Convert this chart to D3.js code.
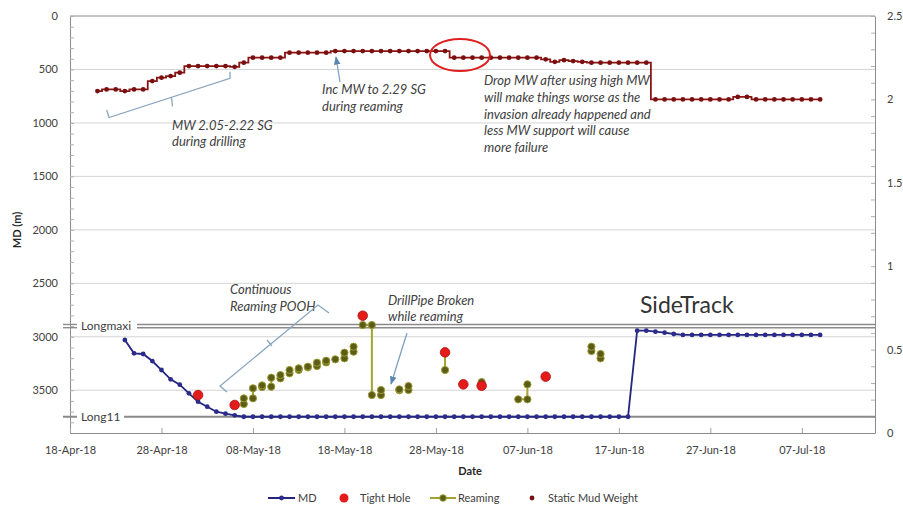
<!DOCTYPE html>
<html><head><meta charset="utf-8">
<script src="https://cdn.jsdelivr.net/npm/d3@7"></script>
<style>
body{margin:0;background:#fff}
svg{display:block}
text{font-family:Lato,"Open Sans",sans-serif}
</style>
</head><body>
<svg id="c" width="903" height="506"></svg>
<script>
// ---------- DATA ----------
const xTickLabels = ["2018-04-18","2018-04-28","2018-05-08","2018-05-18","2018-05-28","2018-06-07","2018-06-17","2018-06-27","2018-07-07"];
const leftTicks = [0,500,1000,1500,2000,2500,3000,3500];
const rightTicks = [0,0.5,1,1.5,2,2.5];

const mdSeries = [
 ["2018-04-24",3030],["2018-04-25",3155],["2018-04-26",3161],["2018-04-27",3227],["2018-04-28",3311],
 ["2018-04-29",3398],["2018-04-30",3448],["2018-05-01",3529],["2018-05-02",3607],["2018-05-03",3654],
 ["2018-05-04",3701],["2018-05-05",3719],["2018-05-06",3735],["2018-05-07",3748],["2018-05-08",3748],
 ["2018-05-09",3748],["2018-05-10",3748],["2018-05-11",3748],["2018-05-12",3748],["2018-05-13",3748],
 ["2018-05-14",3748],["2018-05-15",3748],["2018-05-16",3748],["2018-05-17",3748],["2018-05-18",3748],
 ["2018-05-19",3748],["2018-05-20",3748],["2018-05-21",3748],["2018-05-22",3748],["2018-05-23",3748],
 ["2018-05-24",3748],["2018-05-25",3748],["2018-05-26",3748],["2018-05-27",3748],["2018-05-28",3748],
 ["2018-05-29",3748],["2018-05-30",3748],["2018-05-31",3748],["2018-06-01",3748],["2018-06-02",3748],
 ["2018-06-03",3748],["2018-06-04",3748],["2018-06-05",3748],["2018-06-06",3748],["2018-06-07",3748],
 ["2018-06-08",3748],["2018-06-09",3748],["2018-06-10",3748],["2018-06-11",3748],["2018-06-12",3748],
 ["2018-06-13",3748],["2018-06-14",3748],["2018-06-15",3748],["2018-06-16",3748],["2018-06-17",3748],
 ["2018-06-18",3748],["2018-06-19",2943],["2018-06-20",2943],["2018-06-21",2952],["2018-06-22",2962],
 ["2018-06-23",2974],["2018-06-24",2983],["2018-06-25",2983],["2018-06-26",2983],["2018-06-27",2983],
 ["2018-06-28",2983],["2018-06-29",2983],["2018-06-30",2983],["2018-07-01",2983],["2018-07-02",2983],
 ["2018-07-03",2983],["2018-07-04",2983],["2018-07-05",2983],["2018-07-06",2983],["2018-07-07",2983],
 ["2018-07-08",2983],["2018-07-09",2983]
];

const tightHole = [
 ["2018-05-02",3545],["2018-05-06",3638],["2018-05-20",2803],["2018-05-29",3146],
 ["2018-05-31",3445],["2018-06-02",3458],["2018-06-09",3373]
];

// each inner list is one connected reaming run
const reaming = [
 [["2018-05-07",3629],["2018-05-07",3576]],
 [["2018-05-08",3576],["2018-05-08",3482]],
 [["2018-05-09",3470],["2018-05-09",3455]],
 [["2018-05-10",3467],["2018-05-10",3383]],
 [["2018-05-11",3389],["2018-05-11",3358]],
 [["2018-05-12",3342],["2018-05-12",3311]],
 [["2018-05-13",3310],["2018-05-13",3295]],
 [["2018-05-14",3286],["2018-05-14",3280]],
 [["2018-05-15",3273],["2018-05-15",3242]],
 [["2018-05-16",3240],["2018-05-16",3224]],
 [["2018-05-17",3211]],
 [["2018-05-18",3202],["2018-05-18",3149]],
 [["2018-05-19",3140],["2018-05-19",3093]],
 [["2018-05-20",2890],["2018-05-21",2890],["2018-05-21",3545]],
 [["2018-05-22",3545],["2018-05-22",3498]],
 [["2018-05-24",3500],["2018-05-24",3492]],
 [["2018-05-25",3498],["2018-05-25",3461]],
 [["2018-05-29",3146],["2018-05-29",3311]],
 [["2018-06-02",3448],["2018-06-02",3423]],
 [["2018-06-06",3585],["2018-06-07",3585],["2018-06-07",3445]],
 [["2018-06-14",3133],["2018-06-14",3093]],
 [["2018-06-15",3202],["2018-06-15",3161]]
];

const staticMudWeight = [
 ["2018-04-21",2.05],["2018-04-22",2.06],["2018-04-23",2.06],["2018-04-24",2.05],["2018-04-25",2.06],
 ["2018-04-26",2.06],["2018-04-27",2.11],["2018-04-28",2.13],["2018-04-29",2.14],["2018-04-30",2.16],
 ["2018-05-01",2.20],["2018-05-02",2.20],["2018-05-03",2.20],["2018-05-04",2.20],["2018-05-05",2.20],
 ["2018-05-06",2.195],["2018-05-07",2.22],["2018-05-08",2.25],["2018-05-09",2.25],["2018-05-10",2.25],
 ["2018-05-11",2.25],["2018-05-12",2.28],["2018-05-13",2.28],["2018-05-14",2.28],["2018-05-15",2.28],
 ["2018-05-16",2.28],["2018-05-17",2.29],["2018-05-18",2.29],["2018-05-19",2.29],["2018-05-20",2.29],
 ["2018-05-21",2.29],["2018-05-22",2.29],["2018-05-23",2.29],["2018-05-24",2.29],["2018-05-25",2.29],
 ["2018-05-26",2.29],["2018-05-27",2.29],["2018-05-28",2.29],["2018-05-29",2.29],["2018-05-30",2.25],
 ["2018-05-31",2.25],["2018-06-01",2.25],["2018-06-02",2.25],["2018-06-03",2.25],["2018-06-04",2.25],
 ["2018-06-05",2.25],["2018-06-06",2.25],["2018-06-07",2.25],["2018-06-08",2.25],["2018-06-09",2.24],
 ["2018-06-10",2.225],["2018-06-11",2.235],["2018-06-12",2.23],["2018-06-13",2.225],["2018-06-14",2.22],
 ["2018-06-15",2.22],["2018-06-16",2.22],["2018-06-17",2.22],["2018-06-18",2.22],["2018-06-19",2.22],
 ["2018-06-20",2.22],["2018-06-21",2.00],["2018-06-22",2.00],["2018-06-23",2.00],["2018-06-24",2.00],
 ["2018-06-25",2.00],["2018-06-26",2.00],["2018-06-27",2.00],["2018-06-28",2.00],["2018-06-29",2.00],
 ["2018-06-30",2.015],["2018-07-01",2.015],["2018-07-02",2.00],["2018-07-03",2.00],["2018-07-04",2.00],
 ["2018-07-05",2.00],["2018-07-06",2.00],["2018-07-07",2.00],["2018-07-08",2.00],["2018-07-09",2.00]
];

const formations = [["Longmaxi",[2885,2915]],["Long11",[3748]]];
const xDomain = ["2018-04-18","2018-07-15"];
const leftDomain = [0,3900];
const rightDomain = [0,2.5];

// ---------- CHART ----------
const parse = d3.timeParse("%Y-%m-%d");
const svg = d3.select("#c");
const L = 70, R = 875, T = 16, B = 433;
const x = d3.scaleTime().domain(xDomain.map(parse)).range([L,R]);
const yL = d3.scaleLinear().domain(leftDomain).range([T,B]);
const yR = d3.scaleLinear().domain(rightDomain).range([B,T]);
const axisCol = "#8c8c8c", txtCol = "#404040";

// gridlines
svg.append("g").selectAll("line").data(leftTicks.filter(d=>d>0)).join("line")
  .attr("x1",L).attr("x2",R).attr("y1",d=>yL(d)).attr("y2",d=>yL(d))
  .attr("stroke","#d4d4d4").attr("stroke-width",1);

// top border
svg.append("line").attr("x1",L).attr("x2",R).attr("y1",T).attr("y2",T).attr("stroke",axisCol);

// left axis
const gl = svg.append("g").attr("transform",`translate(${L},0)`)
  .call(d3.axisLeft(yL).tickValues(leftTicks).tickSize(0).tickPadding(12).tickFormat(d3.format("d")));
gl.select(".domain").attr("stroke",axisCol);
gl.selectAll("text").attr("font-size",11).attr("fill",txtCol).attr("font-family","Lato");
const glm = svg.append("g").attr("transform",`translate(${L},0)`)
  .call(d3.axisLeft(yL).tickValues(d3.range(0,3901,100)).tickSize(-4).tickFormat(""));
glm.select(".domain").remove(); glm.selectAll("line").attr("stroke","#b0b0b0");

// right axis
const gr = svg.append("g").attr("transform",`translate(${R},0)`)
  .call(d3.axisRight(yR).tickValues(rightTicks).tickSize(0).tickPadding(12).tickFormat(d3.format("")));
gr.select(".domain").attr("stroke",axisCol);
gr.selectAll("text").attr("font-size",11).attr("fill",txtCol).attr("font-family","Lato");
const grm = svg.append("g").attr("transform",`translate(${R},0)`)
  .call(d3.axisRight(yR).tickValues(d3.range(0,26).map(i=>i/10)).tickSize(-4).tickFormat(""));
grm.select(".domain").remove(); grm.selectAll("line").attr("stroke","#b0b0b0");

// bottom axis
const gb = svg.append("g").attr("transform",`translate(0,${B})`)
  .call(d3.axisBottom(x).tickValues(xTickLabels.map(parse)).tickSize(0).tickPadding(13).tickFormat(d3.timeFormat("%d-%b-%y")));
gb.select(".domain").attr("stroke",axisCol);
gb.selectAll("text").attr("font-size",11).attr("fill",txtCol).attr("font-family","Lato");
const gbm = svg.append("g").attr("transform",`translate(0,${B})`)
  .call(d3.axisBottom(x).tickValues(xTickLabels.map(parse)).tickSize(-5).tickFormat(""));
gbm.select(".domain").remove(); gbm.selectAll("line").attr("stroke","#a0a0a0");

// axis titles
svg.append("text").attr("transform","translate(21,230) rotate(-90)").attr("text-anchor","middle")
  .attr("font-size",11).attr("font-weight","bold").attr("fill","#262626").text("MD (m)");
svg.append("text").attr("x",470).attr("y",475).attr("text-anchor","middle")
  .attr("font-size",11).attr("font-weight","bold").attr("fill","#262626").text("Date");

// formation lines
const fg = svg.append("g");
formations.forEach(([name,depths])=>{
  const labW = name==="Longmaxi" ? 58 : 45;
  depths.forEach(dp=>{
    const yy = yL(dp);
    const sw = depths.length>1 ? 1.4 : 2;
    fg.append("line").attr("x1",63).attr("x2",77).attr("y1",yy).attr("y2",yy).attr("stroke","#8a8a8a").attr("stroke-width",sw);
    fg.append("line").attr("x1",79+labW).attr("x2",R).attr("y1",yy).attr("y2",yy).attr("stroke","#8a8a8a").attr("stroke-width",sw);
  });
  const ym = d3.mean(depths.map(yL));
  fg.append("text").attr("x",81).attr("y",ym+4).attr("font-size",12).attr("fill",txtCol).text(name);
});

// MD line
const mdPts = mdSeries.map(d=>[x(parse(d[0])),yL(d[1])]);
svg.append("path").attr("d",d3.line()(mdPts)).attr("fill","none").attr("stroke","#252580").attr("stroke-width",1.8);
svg.append("g").selectAll("circle").data(mdPts).join("circle")
  .attr("cx",d=>d[0]).attr("cy",d=>d[1]).attr("r",2.4).attr("fill","#2b2b8c");

// Static mud weight
const mwPts = staticMudWeight.map(d=>[x(parse(d[0])),yR(d[1])]);
svg.append("path").attr("d",d3.line().curve(d3.curveStep)(mwPts)).attr("fill","none").attr("stroke","#8b1414").attr("stroke-width",1.8);
svg.append("g").selectAll("circle").data(mwPts).join("circle")
  .attr("cx",d=>d[0]).attr("cy",d=>d[1]).attr("r",2.4).attr("fill","#7a0f0f");

// Reaming
const rg = svg.append("g");
reaming.forEach(seg=>{
  const pts = seg.map(d=>[x(parse(d[0])),yL(d[1])]);
  if(pts.length>1) rg.append("path").attr("d",d3.line()(pts)).attr("fill","none").attr("stroke","#a3a32e").attr("stroke-width",2);
});
reaming.forEach(seg=>{
  seg.forEach(d=>{
    rg.append("circle").attr("cx",x(parse(d[0]))).attr("cy",yL(d[1])).attr("r",3.6)
      .attr("fill","#5c5c18").attr("stroke","#9c9c34").attr("stroke-width",1);
  });
});

// Tight hole
svg.append("g").selectAll("circle").data(tightHole).join("circle")
  .attr("cx",d=>x(parse(d[0]))).attr("cy",d=>yL(d[1])).attr("r",4.8)
  .attr("fill","#e31b1b").attr("stroke","#b01010").attr("stroke-width",0.8);

// ---------- annotations ----------
const ann = svg.append("g").attr("font-style","italic").attr("font-size",13).attr("fill",txtCol);
const txt = (s,xx,yy)=>ann.append("text").attr("x",xx).attr("y",yy).text(s);
txt("MW 2.05-2.22 SG",172,130); txt("during drilling",172,146);
txt("Inc MW to 2.29 SG",322,94); txt("during reaming",322,111);
["Drop MW after using high MW","will make things worse as the","invasion already happened and","less MW support will cause","more failure"]
  .forEach((s,i)=>txt(s,484,85+i*16.8));
txt("Continuous",230,294); txt("Reaming POOH",230,311);
txt("DrillPipe Broken",388,305); txt("while reaming",388,321);
svg.append("text").attr("x",640).attr("y",313).attr("font-size",23).attr("fill","#333").text("SideTrack");

const brC = "#89a6bf";
svg.append("path").attr("d","M106.7,110 L109,117.5 L230,78.3 L230,71.7 M171.5,97.5 L172.5,106.5")
  .attr("fill","none").attr("stroke",brC).attr("stroke-width",1.3);
svg.append("path").attr("d","M227,392 L220,386 L318,305 L329,313 M267,340 L272,346")
  .attr("fill","none").attr("stroke",brC).attr("stroke-width",1.3);

const defs = svg.append("defs");
defs.append("marker").attr("id","ah").attr("viewBox","0 0 10 10").attr("refX",9).attr("refY",5)
  .attr("markerWidth",7).attr("markerHeight",7).attr("orient","auto")
  .append("path").attr("d","M0,1 L10,5 L0,9 Z").attr("fill","#5b86b0");
svg.append("line").attr("x1",340).attr("y1",82).attr("x2",336).attr("y2",57)
  .attr("stroke","#7a9cc0").attr("stroke-width",1.2).attr("marker-end","url(#ah)");
svg.append("line").attr("x1",407).attr("y1",333).attr("x2",391).attr("y2",384)
  .attr("stroke","#7a9cc0").attr("stroke-width",1.2).attr("marker-end","url(#ah)");

svg.append("ellipse").attr("cx",460).attr("cy",55).attr("rx",30).attr("ry",16)
  .attr("fill","none").attr("stroke","#e02020").attr("stroke-width",2);

// ---------- legend ----------
const lg = svg.append("g").attr("font-size",11).attr("fill",txtCol);
const ly = 498;
lg.append("line").attr("x1",268).attr("x2",295).attr("y1",ly).attr("y2",ly).attr("stroke","#252580").attr("stroke-width",2);
lg.append("circle").attr("cx",281.5).attr("cy",ly).attr("r",2.4).attr("fill","#2b2b8c");
lg.append("text").attr("x",298).attr("y",ly+4).text("MD");
lg.append("circle").attr("cx",344).attr("cy",ly).attr("r",4.5).attr("fill","#e31b1b");
lg.append("text").attr("x",360).attr("y",ly+4).text("Tight Hole");
lg.append("line").attr("x1",430).attr("x2",456).attr("y1",ly).attr("y2",ly).attr("stroke","#a3a32e").attr("stroke-width",2);
lg.append("circle").attr("cx",443).attr("cy",ly).attr("r",3.3).attr("fill","#5c5c18").attr("stroke","#9c9c34");
lg.append("text").attr("x",458).attr("y",ly+4).text("Reaming");
lg.append("circle").attr("cx",532).attr("cy",ly).attr("r",2.4).attr("fill","#7a0f0f");
lg.append("text").attr("x",548).attr("y",ly+4).text("Static Mud Weight");
</script>
</body></html>
